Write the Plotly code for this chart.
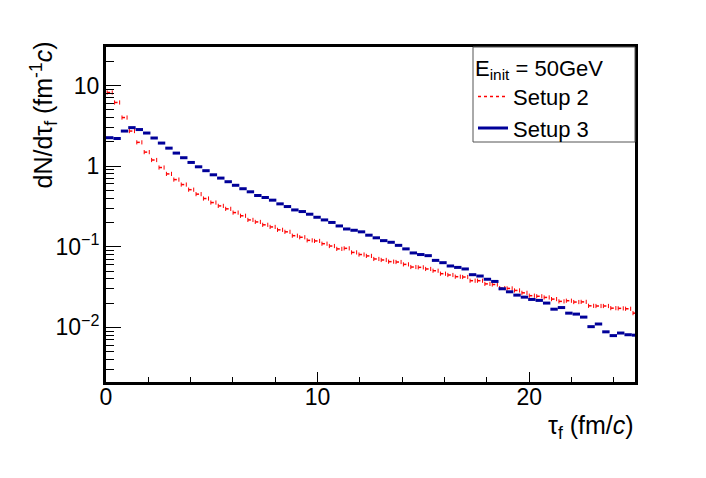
import math
import plotly.graph_objects as go

# ---- data ----
bin_width = 0.35
setup3 = [2.25, 2.2, 2.72, 3.0, 2.84, 2.57, 2.23, 1.93, 1.67, 1.45, 1.27, 1.11, 0.98, 0.877, 0.78, 0.71, 0.64, 0.578,
          0.524, 0.48, 0.432, 0.408, 0.378, 0.34, 0.315, 0.286, 0.273, 0.253, 0.232, 0.215, 0.2, 0.181, 0.166, 0.16, 0.153,
          0.139, 0.129, 0.119, 0.1135, 0.104, 0.094, 0.0837, 0.080, 0.0775, 0.0677, 0.0634, 0.0577, 0.0554, 0.053, 0.045, 0.0433,
          0.0395, 0.0371, 0.0301, 0.0276, 0.0251, 0.0237, 0.0222, 0.0216, 0.020, 0.0168, 0.0176, 0.015, 0.0146, 0.0134, 0.0102,
          0.011, 0.0088, 0.0079, 0.0085, 0.0081, 0.008]
setup2 = [8.18, 6.15, 4.0, 2.72, 1.97, 1.49, 1.19, 0.96, 0.80, 0.68, 0.59, 0.51, 0.449, 0.396, 0.353, 0.321, 0.295, 0.265,
          0.242, 0.215, 0.203, 0.187, 0.176, 0.162, 0.153, 0.137, 0.131, 0.12, 0.118, 0.109, 0.102, 0.094, 0.0955, 0.085, 0.080,
          0.0769, 0.0705, 0.0685, 0.0653, 0.0646, 0.0604, 0.056, 0.0555, 0.053, 0.0504, 0.0463, 0.0446, 0.0425, 0.0421, 0.0379, 0.0379,
          0.0346, 0.034, 0.0307, 0.0304, 0.0287, 0.0268, 0.0247, 0.0243, 0.0235, 0.0224, 0.021, 0.0214, 0.0206, 0.0207, 0.0185,
          0.0184, 0.0184, 0.0173, 0.0172, 0.017, 0.015]
y_tickvals = [0.01, 0.1, 1, 10]
y_ticktext = ["10<sup>\u22122</sup>", "10<sup>\u22121</sup>", "1", "10"]
x_tickvals = [0, 10, 20]

FONT = "Liberation Sans, Arial, sans-serif"

# blue: full-bin horizontal bars
bx, by = [], []
for k, v in enumerate(setup3):
    bx += [k * bin_width, (k + 1) * bin_width, None]
    by += [v, v, None]

# red: short dotted bars centred in each bin, with end ticks
half = 0.12
rx, ry, cx, cy = [], [], [], []
for k, v in enumerate(setup2):
    c = (k + 0.5) * bin_width
    rx += [c - half, c + half, None]
    ry += [v, v, None]
    cx += [c - half, c + half]
    cy += [v, v]

fig = go.Figure()
fig.add_trace(go.Scatter(x=rx, y=ry, mode="lines", name="Setup 2",
                         line=dict(color="#ff0000", width=1.5, dash="dot")))
fig.add_trace(go.Scatter(x=cx, y=cy, mode="markers", showlegend=False, hoverinfo="skip",
                         marker=dict(symbol="line-ns-open", size=3, color="#ff0000",
                                     line=dict(color="#ff0000", width=1))))
fig.add_trace(go.Scatter(x=bx, y=by, mode="lines", name="Setup 3",
                         line=dict(color="#000099", width=3)))

x_minor = [v for v in range(0, 26, 2) if v % 10 != 0]
y_minor = []
for e in (-3, -2, -1, 0, 1):
    for m in range(2, 10):
        y_minor.append(m * 10 ** e)

L, T, PW, PH = 98, 39, 529, 335
W, H = 706, 478

def px(X):
    return (X - 8 - L) / PW

def py(Y):
    return (T + PH - (Y - 8)) / PH

fig.update_layout(
    width=W, height=H,
    margin=dict(l=L, r=W - L - PW, t=T, b=H - T - PH),
    paper_bgcolor="white", plot_bgcolor="white",
    font=dict(family=FONT, size=22, color="black"),
    showlegend=True,
    legend=dict(x=px(473), y=1.0, xanchor="left", yanchor="top",
                bgcolor="rgba(0,0,0,0)", borderwidth=0,
                font=dict(family=FONT, size=22, color="black"),
                title=dict(text="E<sub>init</sub> = 50GeV", font=dict(family=FONT, size=22, color="black")),
                tracegroupgap=0, itemwidth=30),
    xaxis=dict(range=[0, 25], showgrid=False, zeroline=False,
               showline=True, linewidth=3, linecolor="black", mirror=True,
               tickmode="array", tickvals=x_tickvals,
               ticks="inside", ticklen=10, tickwidth=1, tickcolor="black",
               ticklabelstandoff=-8,
               tickfont=dict(family=FONT, size=23, color="black"),
               minor=dict(tickmode="array", tickvals=x_minor, ticks="inside",
                          ticklen=5, tickwidth=1, tickcolor="black", showgrid=False)),
    yaxis=dict(type="log", range=[math.log10(0.0021), math.log10(30)],
               showgrid=False, zeroline=False,
               showline=True, linewidth=3, linecolor="black", mirror=True,
               tickmode="array", tickvals=y_tickvals, ticktext=y_ticktext,
               ticks="inside", ticklen=15, tickwidth=1, tickcolor="black",
               ticklabelstandoff=-1,
               tickfont=dict(family=FONT, size=23, color="black"),
               minor=dict(tickmode="array", tickvals=y_minor, ticks="inside",
                          ticklen=8, tickwidth=1, tickcolor="black", showgrid=False)),
    shapes=[dict(type="rect", xref="paper", yref="paper",
                 x0=px(473), x1=1.0, y0=py(142), y1=1.0,
                 line=dict(color="#555555", width=1), fillcolor="rgba(0,0,0,0)", layer="above")],
    annotations=[
        dict(text="dN/d\u03c4<sub>f</sub> (fm<sup>-1</sup><i>c</i>)", textangle=-90,
             xref="paper", yref="paper", x=px(44), y=py(40),
             xanchor="center", yanchor="top", showarrow=False,
             font=dict(family=FONT, size=25, color="black")),
        dict(text="\u03c4<sub>f</sub> (fm/<i>c</i>)",
             xref="paper", yref="paper", x=px(636), y=py(427),
             xanchor="right", yanchor="middle", showarrow=False,
             font=dict(family=FONT, size=25, color="black")),
    ],
)

fig.write_html("out.html")
